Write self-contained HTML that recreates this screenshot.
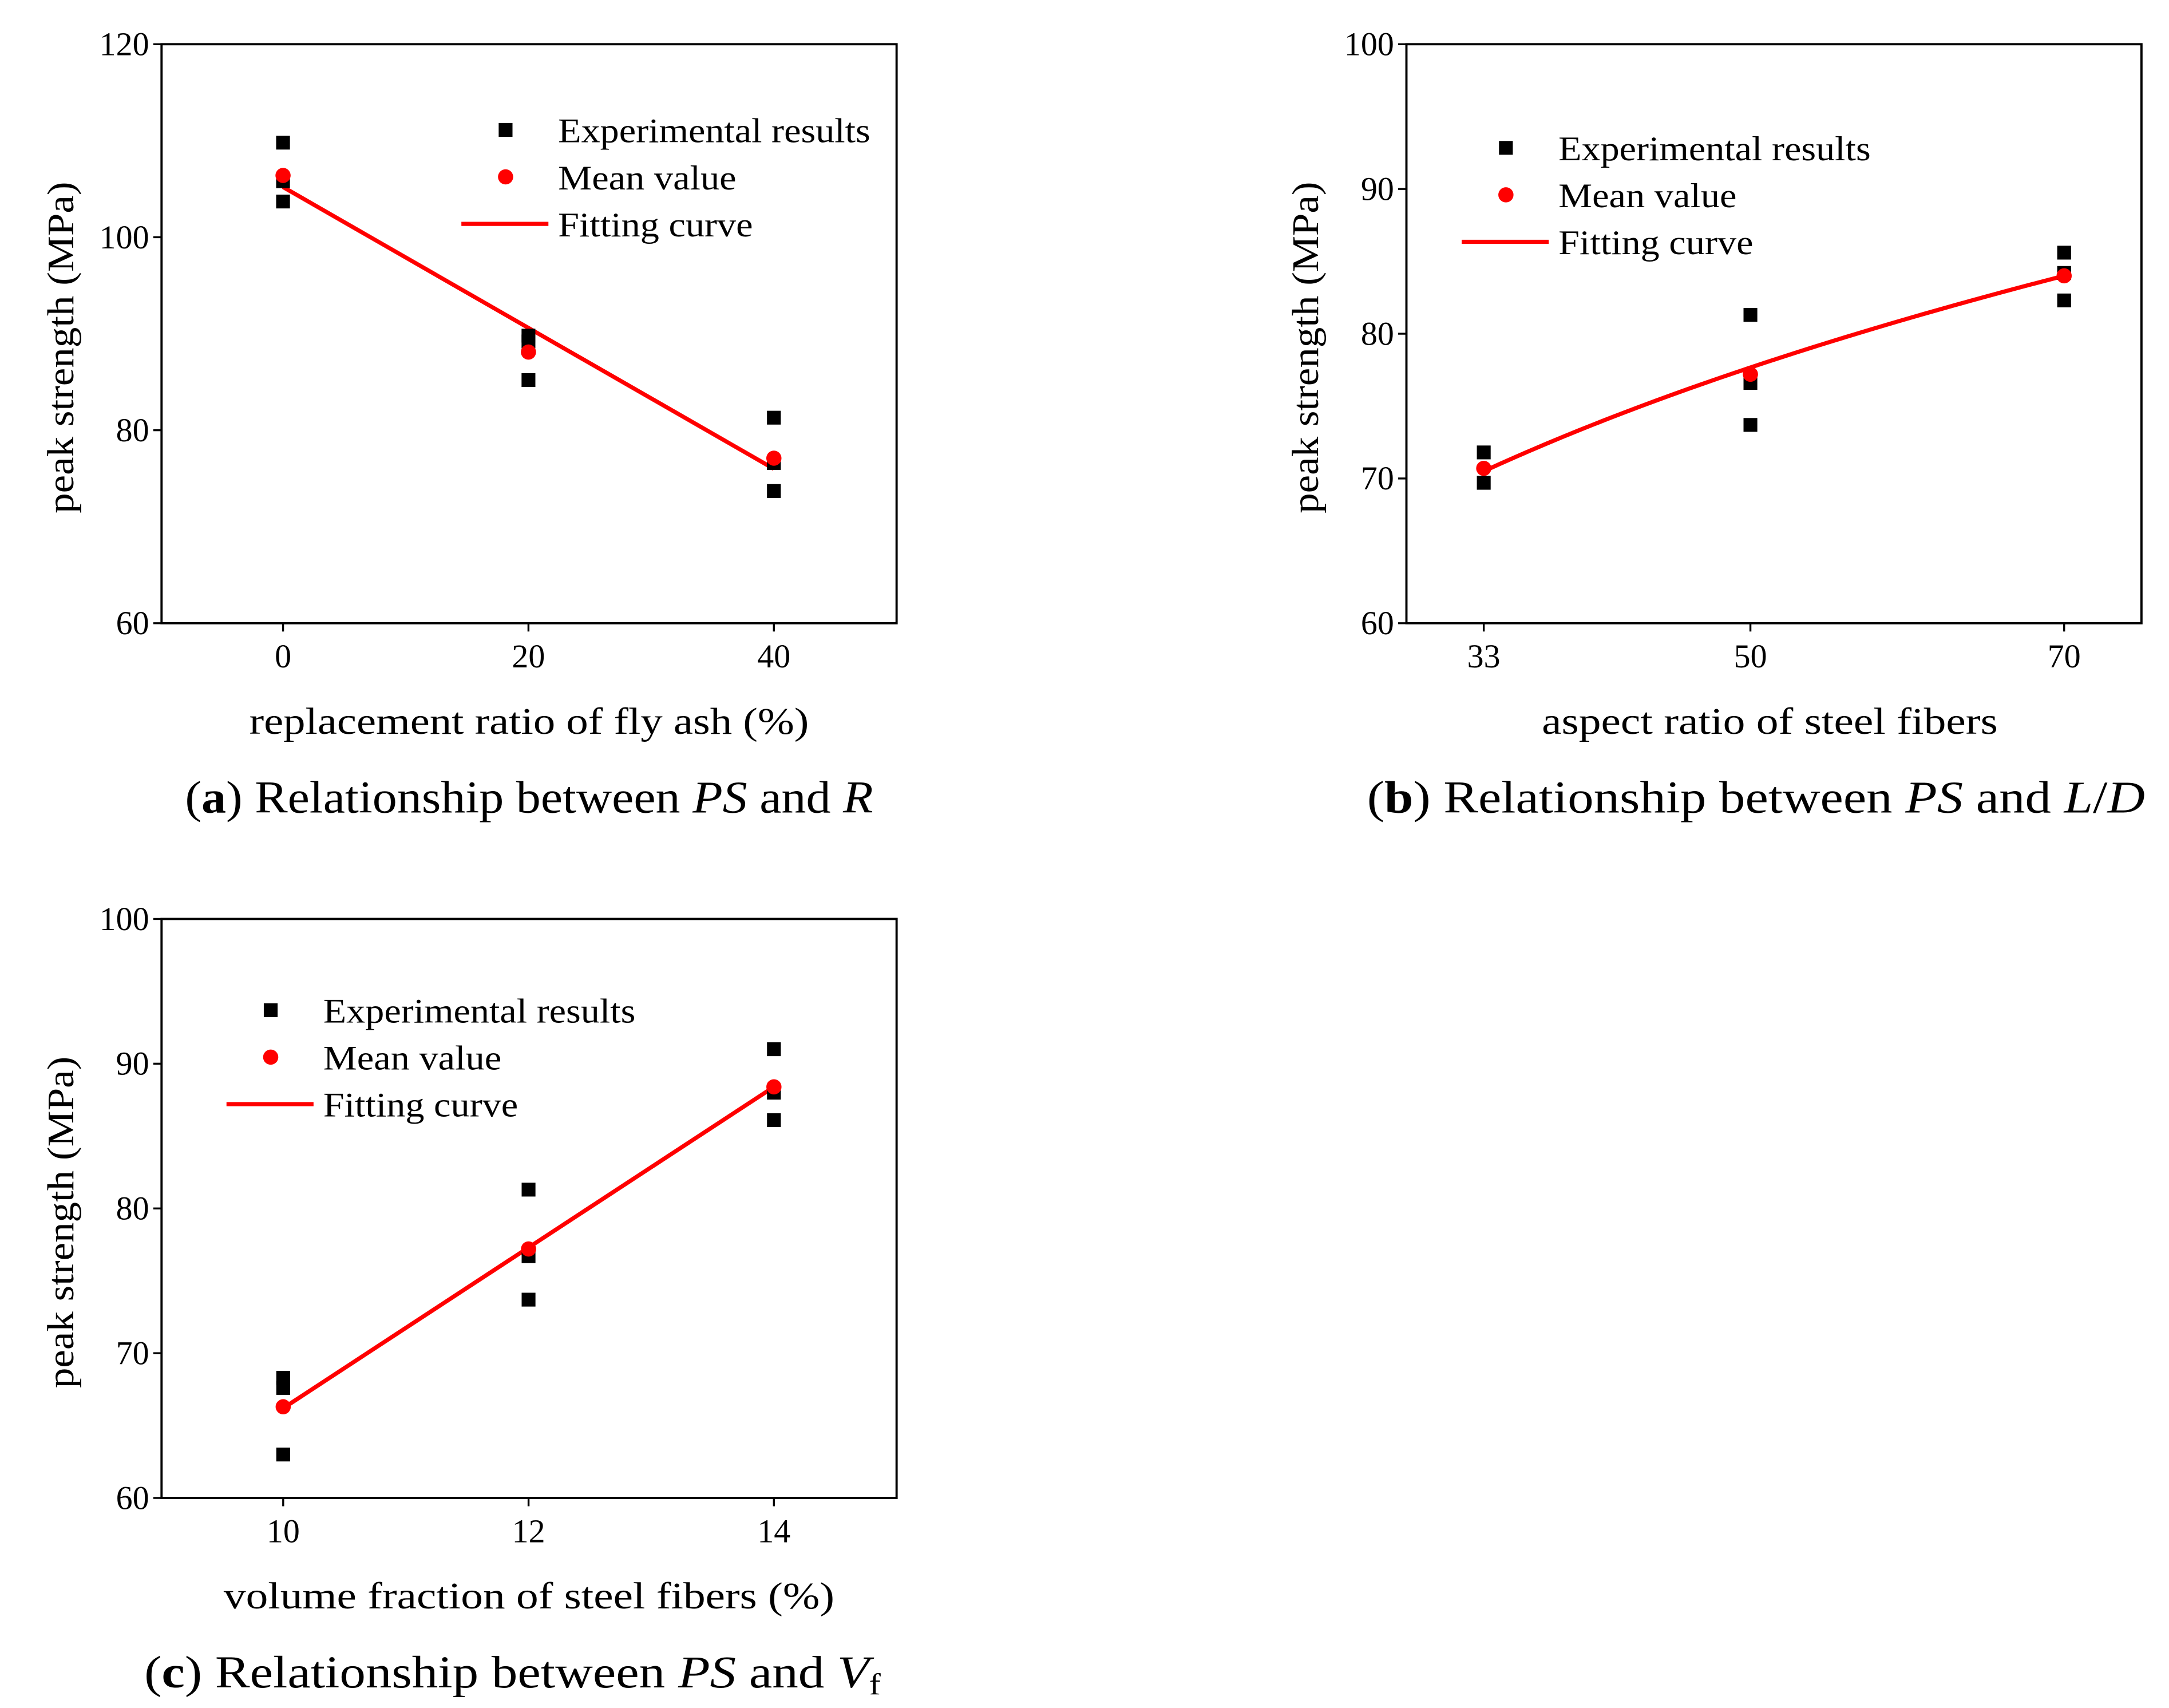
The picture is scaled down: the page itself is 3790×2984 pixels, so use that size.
<!DOCTYPE html>
<html><head><meta charset="utf-8"><style>
html,body{margin:0;padding:0;background:#fff}
svg{display:block}
text{font-family:"Liberation Serif",serif;fill:#000}
</style></head><body>
<svg id="root" width="3790" height="2984" viewBox="0 0 1568 1236" xmlns="http://www.w3.org/2000/svg"></svg>
<script>
// Panel a
const aCats=[0,20,40];
const aExp=[[109.8,105.8,103.7],[89.8,89.2,85.2],[81.3,76.6,73.7]];
const aMean=[106.4,88.1,77.1];
const aFit=[105.2,76.0]; // at x=0 and x=40
const aYTicks=[60,80,100,120];
// Panel b
const bCats=[33,50,70];
const bExp=[[71.8,69.7],[81.3,76.6,73.7],[85.6,84.2,82.3]];
const bMean=[70.7,77.2,84.0];
const bFitCoef=[70.5,0.233]; // y = a*(x/33)^b
const bYTicks=[60,70,80,90,100];
// Panel c
const cCats=[10,12,14];
const cExp=[[68.3,67.6,63.0],[81.3,76.7,73.7],[91.0,88.0,86.1]];
const cMean=[66.3,77.2,88.4];
const cFit=[66.2,88.4];
const cYTicks=[60,70,80,90,100];

const NS="http://www.w3.org/2000/svg";
const root=document.getElementById('root');
function mk(tag,attrs,parent,txt){const e=document.createElementNS(NS,tag);for(const k in attrs)e.setAttribute(k,attrs[k]);if(txt!==undefined)e.textContent=txt;(parent||root).appendChild(e);return e;}

function panel(name,box,xr,yr,xTicks,yTicks,exp,mean,fitPts,xTitle,caption,legend){
  const g=mk('g',{});
  
  
  const X=v=>box.x0+(v-xr[0])/(xr[1]-xr[0])*(box.x1-box.x0);
  const Y=v=>box.y1-(v-yr[0])/(yr[1]-yr[0])*(box.y1-box.y0);
  const frame=mk('rect',{x:box.x0,y:box.y0,width:box.x1-box.x0,height:box.y1-box.y0,fill:'none',stroke:'#000','stroke-width':1.6},g);
  
  
  yTicks.forEach(t=>{
    mk('line',{x1:box.x0-6,x2:box.x0,y1:Y(t),y2:Y(t),stroke:'#000','stroke-width':1.4},g);
    const tl=mk('text',{x:box.x0-9,y:Y(t)+8,'text-anchor':'end','font-size':24},g,String(t));
    
    
  });
  xTicks.forEach(t=>{
    mk('line',{x1:X(t),x2:X(t),y1:box.y1,y2:box.y1+6,stroke:'#000','stroke-width':1.4},g);
    const tl=mk('text',{x:X(t),y:box.y1+32,'text-anchor':'middle','font-size':24},g,String(t));
    
    
  });
  const fp=mk('polyline',{points:fitPts.map(p=>X(p[0])+','+Y(p[1])).join(' '),fill:'none',stroke:'#f00','stroke-width':3},g);
  
  
  exp.forEach((arr,i)=>arr.forEach(v=>{
    const r=mk('rect',{x:X(xTicks[i])-5,y:Y(v)-5,width:10,height:10,fill:'#000'},g);
    
    
  }));
  mean.forEach((v,i)=>{
    const c=mk('circle',{cx:X(xTicks[i]),cy:Y(v),r:5.5,fill:'#f00'},g);
    
    
  });
  const yt=mk('text',{x:0,y:0,transform:`translate(${box.x0-64},${(box.y0+box.y1)/2+10}) rotate(-90)`,'text-anchor':'middle','font-size':27,textLength:240,lengthAdjust:'spacingAndGlyphs'},g,'peak strength (MPa)');
  
  
  const xt=mk('text',{x:xTitle[1],y:box.y1+80,'text-anchor':'middle','font-size':27,textLength:xTitle[2],lengthAdjust:'spacingAndGlyphs'},g,xTitle[0]);
  
  
  const cap=mk('text',{x:caption[1],y:box.y1+137,'text-anchor':'middle','font-size':33,textLength:caption[2],lengthAdjust:'spacingAndGlyphs'},g);
  
  
  cap.innerHTML=caption[0];
  const lg=mk('g',{},g);
  
  
  const [lx,ly]=legend;
  mk('rect',{x:lx-5,y:ly-5,width:10,height:10,fill:'#000'},lg);
  mk('text',{x:lx+38,y:ly+9,'font-size':25,textLength:226,lengthAdjust:'spacingAndGlyphs'},lg,'Experimental results');
  mk('circle',{cx:lx,cy:ly+34,r:5.5,fill:'#f00'},lg);
  mk('text',{x:lx+38,y:ly+43,'font-size':25,textLength:129,lengthAdjust:'spacingAndGlyphs'},lg,'Mean value');
  mk('line',{x1:lx-32,x2:lx+31,y1:ly+68,y2:ly+68,stroke:'#f00','stroke-width':3},lg);
  mk('text',{x:lx+38,y:ly+77,'font-size':25,textLength:141,lengthAdjust:'spacingAndGlyphs'},lg,'Fitting curve');
}

panel('panel-a',{x0:116,x1:648,y0:32,y1:451},[-9.9,50],[60,120],aCats,aYTicks,aExp,aMean,
  [[aCats[0],aFit[0]],[aCats[2],aFit[1]]],['replacement ratio of fly ash (%)',382,405],
  ['(<tspan font-weight="bold">a</tspan>) Relationship between <tspan font-style="italic">PS</tspan> and <tspan font-style="italic">R</tspan>',382,498],[365,94]);

const bFitPts=[];
for(let x=bCats[0];x<=bCats[2]+0.001;x+=1){bFitPts.push([x,bFitCoef[0]*Math.pow(x/bCats[0],bFitCoef[1])]);}
panel('panel-b',{x0:1017,x1:1549,y0:32,y1:451},[28.07,74.93],[60,100],bCats,bYTicks,bExp,bMean,
  bFitPts,['aspect ratio of steel fibers',1280,330],
  ['(<tspan font-weight="bold">b</tspan>) Relationship between <tspan font-style="italic">PS</tspan> and <tspan font-style="italic">L</tspan>/<tspan font-style="italic">D</tspan>',1270,563],[1089,107]);

panel('panel-c',{x0:116,x1:648,y0:665,y1:1084},[9.0085,15.0],[60,100],cCats,cYTicks,cExp,cMean,
  [[cCats[0],cFit[0]],[cCats[2],cFit[1]]],['volume fraction of steel fibers (%)',382,442],
  ['(<tspan font-weight="bold">c</tspan>) Relationship between <tspan font-style="italic">PS</tspan> and <tspan font-style="italic">V</tspan><tspan font-size="22" dy="5">f</tspan>',370,533],[195,731]);
</script>
</body></html>
